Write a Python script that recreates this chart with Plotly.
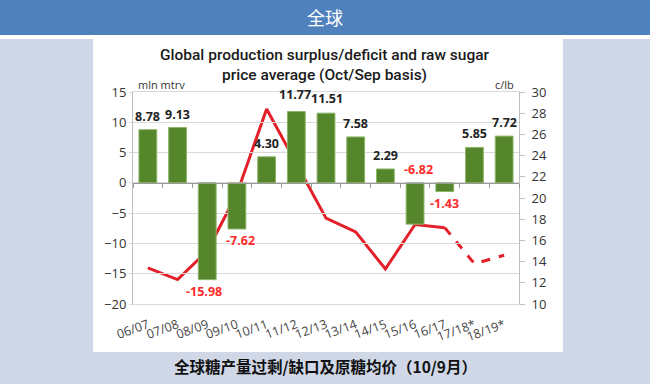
import plotly.graph_objects as go

seasons = ["06/07", "07/08", "08/09", "09/10", "10/11", "11/12", "12/13",
           "13/14", "14/15", "15/16", "16/17", "17/18*", "18/19*"]
surplus = [8.78, 9.13, -15.98, -7.62, 4.30, 11.77, 11.51, 7.58, 2.29, -6.82, -1.43, 5.85, 7.72]
price = [13.4, 12.3, 15.0, 20.4, 28.4, 23.3, 18.1, 16.8, 13.3, 17.5, 17.2, 13.8, 14.6]
n_actual = 11  # up to 16/17 actual, after that forecast

W_FIG, H_FIG = 650, 384
L, R, T, B = 133, 519, 92, 304


def pxx(x):
    return (x - L) / (R - L)


def pxy(y):
    return (B - y) / (B - T)


price_actual = price[:n_actual] + [None] * (len(price) - n_actual)
price_fcst = [None] * (n_actual - 1) + price[n_actual - 1:]

fig = go.Figure()
fig.add_trace(go.Bar(
    x=seasons, y=surplus, xaxis="x2", yaxis="y",
    marker=dict(color="#55862B", line=dict(color="#8DB56A", width=1)),
    width=0.6, hoverinfo="skip", showlegend=False))
fig.add_trace(go.Scatter(
    x=seasons, y=price_actual, xaxis="x", yaxis="y2", mode="lines",
    line=dict(color="#E3202A", width=3), connectgaps=False, showlegend=False))
fig.add_trace(go.Scatter(
    x=seasons, y=price_fcst, xaxis="x", yaxis="y2", mode="lines",
    line=dict(color="#E3202A", width=3, dash="dash"), connectgaps=False, showlegend=False))

ann = []
label_font = dict(family="Open Sans, Noto Sans", size=12.5)
above_zero = {"15/16"}
shift = {"08/09": -3, "09/10": 4, "15/16": 3, "11/12": -1, "12/13": 1}
raise_px = {"11/12": 4, "12/13": 1}
for s, v in zip(seasons, surplus):
    txt = f"{v:.2f}"
    if v >= 0:
        ann.append(dict(x=s, y=v, xref="x", yref="y", text=f"<b>{txt}</b>", showarrow=False,
                        xanchor="center", yanchor="bottom", yshift=3 + raise_px.get(s, 0),
                        xshift=shift.get(s, 0),
                        font=dict(color="#222222", **label_font)))
    elif s in above_zero:
        ann.append(dict(x=s, y=0, xref="x", yref="y", text=f"<b>{txt}</b>", showarrow=False,
                        xanchor="center", yanchor="bottom", yshift=3, xshift=shift.get(s, 0),
                        font=dict(color="#FF2A2A", **label_font)))
    else:
        ann.append(dict(x=s, y=v, xref="x", yref="y", text=f"<b>{txt}</b>", showarrow=False,
                        xanchor="center", yanchor="top", yshift=-1, xshift=shift.get(s, 0),
                        font=dict(color="#FF2A2A", **label_font)))

# titles and texts
ann.append(dict(x=pxx(325), y=pxy(65), xref="paper", yref="paper", showarrow=False,
                xanchor="center", yanchor="middle",
                text="Global production surplus/deficit and raw sugar<br>price average (Oct/Sep basis)",
                font=dict(family="Roboto", size=15.5, color="#1A1A1A", weight=500), align="center"))
ann.append(dict(x=pxx(136), y=pxy(84), xref="paper", yref="paper", showarrow=False,
                xanchor="left", yanchor="middle", text="mln mtrv",
                font=dict(family="Open Sans", size=11, color="#333333")))
ann.append(dict(x=pxx(516), y=pxy(84), xref="paper", yref="paper", showarrow=False,
                xanchor="right", yanchor="middle", text="c/lb",
                font=dict(family="Open Sans", size=11, color="#333333")))
ann.append(dict(x=pxx(325), y=pxy(17), xref="paper", yref="paper", showarrow=False,
                xanchor="center", yanchor="middle",
                text="全球", font=dict(family="Noto Sans CJK SC", size=18, color="white")))
ann.append(dict(x=pxx(325), y=pxy(366), xref="paper", yref="paper", showarrow=False,
                xanchor="center", yanchor="middle",
                text="<b>全球糖产量过剩/缺口及原糖均价（10/9月）</b>",
                font=dict(family="Noto Sans CJK SC", size=15.5, color="#111111")))

shapes = [
    dict(type="rect", xref="paper", yref="paper", x0=pxx(0), x1=pxx(650), y0=pxy(0), y1=pxy(35),
         fillcolor="#4F81BD", line=dict(width=0), layer="below"),
    dict(type="rect", xref="paper", yref="paper", x0=pxx(0), x1=pxx(650), y0=pxy(35), y1=pxy(39),
         fillcolor="white", line=dict(width=0), layer="below"),
    dict(type="rect", xref="paper", yref="paper", x0=pxx(93), x1=pxx(563), y0=pxy(35), y1=pxy(352),
         fillcolor="white", line=dict(width=0), layer="below"),
]

tickfont = dict(family="Open Sans, Noto Sans", size=13, color="#333333")
fig.update_layout(
    width=W_FIG, height=H_FIG,
    margin=dict(l=L, r=W_FIG - R, t=T, b=H_FIG - B, pad=0),
    paper_bgcolor="#D0D8E8", plot_bgcolor="rgba(0,0,0,0)",
    showlegend=False, bargap=0.4,
    annotations=ann, shapes=shapes,
    xaxis=dict(type="category", categoryorder="array", categoryarray=seasons,
               range=[-0.5, len(seasons) - 0.5], tickangle=-20,
               tickfont=dict(family="Open Sans, Noto Sans", size=12.5, color="#444444"),
               showline=True, linecolor="#D9D9D9", mirror=True, showgrid=False,
               ticks="", ticklabelstandoff=8),
    xaxis2=dict(type="category", categoryorder="array", categoryarray=seasons,
                range=[-0.5, len(seasons) - 0.5], overlaying="x", anchor="free",
                position=20 / 35, showline=True, linecolor="#999999", linewidth=1,
                ticks="outside", ticklen=4, tickcolor="#999999", tickson="boundaries",
                showticklabels=False, showgrid=False),
    yaxis=dict(range=[-20, 15], dtick=5, tick0=0, showgrid=True, gridcolor="#D9D9D9",
               showline=True, linecolor="#BFBFBF", ticks="outside", ticklen=3,
               tickcolor="#D9D9D9", zeroline=False, tickfont=tickfont),
    yaxis2=dict(range=[10, 30], dtick=2, tick0=10, overlaying="y", side="right",
                showgrid=False, showline=True, linecolor="#BFBFBF", ticks="outside",
                ticklen=5, tickcolor="#BFBFBF", zeroline=False, tickfont=tickfont,
                ticklabelstandoff=4),
)

fig.write_html("out.html", config={"displayModeBar": False},
               post_script="document.body.style.margin='0px';")
